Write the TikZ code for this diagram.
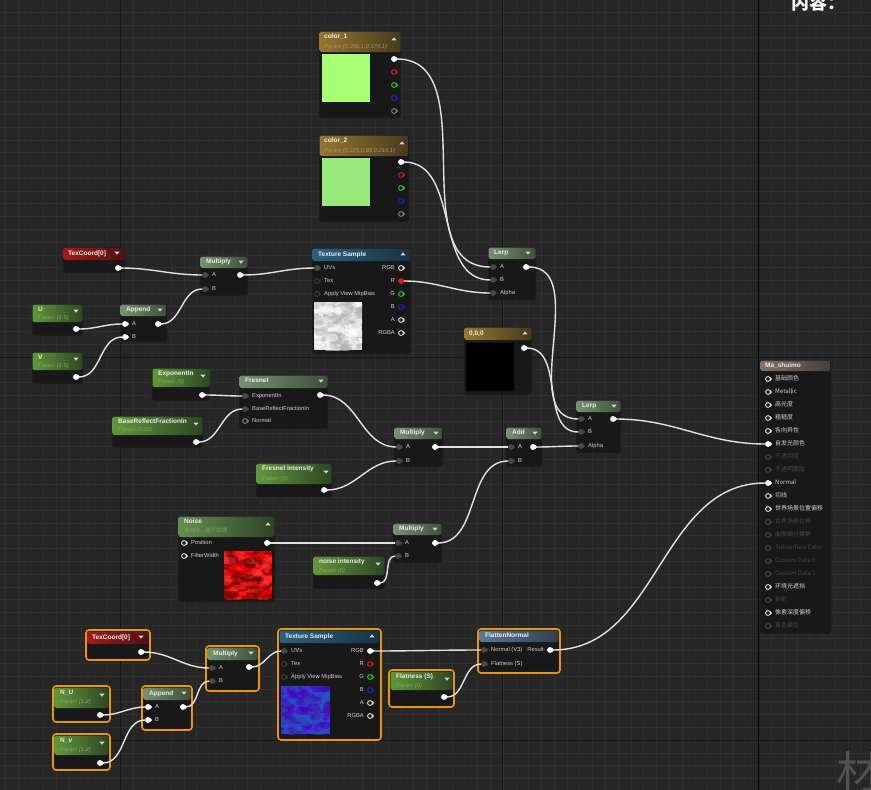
\documentclass[tikz,border=0pt]{standalone}
\usepackage{fontspec}
\setmainfont{Liberation Sans}
\newfontfamily\cjk{Noto Sans CJK SC}

\definecolor{bgc}{RGB}{38,38,38}
\definecolor{gridc}{RGB}{47,47,47}
\definecolor{majc}{RGB}{22,22,22}
\definecolor{bodyc}{RGB}{23,24,23}
\definecolor{wirec}{RGB}{226,226,226}
\definecolor{titlec}{RGB}{236,236,236}
\definecolor{lblc}{RGB}{208,208,208}
\definecolor{dimc}{RGB}{72,72,72}
\definecolor{iconc}{RGB}{215,215,215}
\definecolor{selc}{RGB}{232,150,18}
\definecolor{markc}{RGB}{82,82,82}
\definecolor{pingray}{RGB}{72,72,72}
\definecolor{ringdark}{RGB}{62,62,62}
\definecolor{ringgray}{RGB}{130,130,130}
\definecolor{pinwhite}{RGB}{222,222,222}
\definecolor{pinred}{RGB}{225,25,25}
\definecolor{pingreen}{RGB}{25,215,25}
\definecolor{pinblue}{RGB}{30,30,225}
\definecolor{subpar}{RGB}{128,168,92}
\definecolor{subgold}{RGB}{168,148,98}
\definecolor{funcL}{RGB}{118,146,112}
\definecolor{funcR}{RGB}{62,80,60}
\definecolor{parL}{RGB}{98,150,58}
\definecolor{parR}{RGB}{46,70,36}
\definecolor{texL}{RGB}{42,98,132}
\definecolor{texR}{RGB}{26,50,66}
\definecolor{redL}{RGB}{160,28,28}
\definecolor{redR}{RGB}{78,18,18}
\definecolor{constL}{RGB}{150,118,45}
\definecolor{constR}{RGB}{70,58,30}
\definecolor{flatL}{RGB}{92,122,150}
\definecolor{flatR}{RGB}{46,62,80}
\definecolor{matL}{RGB}{128,114,104}
\definecolor{matR}{RGB}{70,63,58}
\definecolor{noiseL}{RGB}{102,142,80}
\definecolor{noiseR}{RGB}{46,66,40}
\definecolor{swA}{RGB}{166,255,112}
\definecolor{swB}{RGB}{152,232,124}

\tikzset{
  hfunc/.style={left color=funcL, right color=funcR},
  hparam/.style={left color=parL, right color=parR},
  htex/.style={left color=texL, right color=texR},
  hred/.style={left color=redL, right color=redR},
  hconst/.style={left color=constL, right color=constR},
  hflat/.style={left color=flatL, right color=flatR},
  hmat/.style={left color=matL, right color=matR},
  hnoise/.style={left color=noiseL, right color=noiseR},
  body/.style={fill=bodyc, draw=black!85, line width=0.8pt, rounded corners=2pt},
  sel/.style={draw=selc, line width=1.6pt, rounded corners=3pt},
  title/.style={anchor=west, inner sep=0pt, text=titlec, font=\bfseries\fontsize{6.5}{7}\selectfont, text height=4.7pt, text depth=1.3pt},
  sub/.style={anchor=west, inner sep=0pt, text=subpar, font=\itshape\fontsize{5.8}{6.5}\selectfont, text height=4.2pt, text depth=1.2pt},
  lbl/.style={anchor=west, inner sep=0pt, text=lblc, font=\fontsize{5.8}{6.5}\selectfont, text height=4.2pt, text depth=1.2pt},
  lblr/.style={lbl, anchor=east},
  matl/.style={lbl, font=\cjk\fontsize{6}{7}\selectfont},
  pinc/.style={circle, inner sep=0pt, minimum size=4.8pt, line width=0.9pt},
  wire/.style={draw=wirec, line width=1.4pt, out=0, in=180},
}

% box with header: x1, y1, x2, y2, header bottom, header style
\newcommand{\uebox}[6]{%
  \draw[body] (#1,#2) rectangle (#3,#4);
  \shade[#6, rounded corners=1.6pt] (#1+0.5,#2+0.5) rectangle (#3-0.5,#5);}
% pin: name, x, y, fill, ring colour
\newcommand{\uepin}[5]{%
  \node[pinc, fill=#4, draw=#5] (#1) at (#2,#3) {};
  \fill[#5] (#2+2.2,#3-1.9) -- (#2+4.2,#3) -- (#2+2.2,#3+1.9) -- cycle;}
\newcommand{\inpin}[6]{\uepin{#1}{#2}{#3}{#4}{#5}\node[lbl] (#1l) at (#2+7,#3) {#6};}
\newcommand{\outpin}[6]{\uepin{#1}{#2}{#3}{#4}{#5}\node[lblr] (#1l) at (#2-6,#3) {#6};}
\newcommand{\dtri}[2]{\fill[iconc] (#1-2.6,#2-1.4) -- (#1+2.6,#2-1.4) -- (#1,#2+1.6) -- cycle;}
\newcommand{\utri}[2]{\fill[iconc] (#1-2.6,#2+1.4) -- (#1+2.6,#2+1.4) -- (#1,#2-1.6) -- cycle;}
% preview image: x1, y1, x2, y2, base, blob colours, seed
\newcommand{\thumb}[8]{%
  \begin{scope}
    \clip (#1,#2) rectangle (#3,#4);
    \fill[#5] (#1,#2) rectangle (#3,#4);
    \pgfmathsetseed{#8}
    \foreach \bb in {1,...,80}{
      \pgfmathsetmacro\bx{#1+rnd*(#3-#1)}
      \pgfmathsetmacro\by{#2+rnd*(#4-#2)}
      \pgfmathsetmacro\br{1.2+rnd*3}
      \fill[#6, opacity=0.5] (\bx,\by) ellipse ({1.6*\br pt} and {\br pt});
      \pgfmathsetmacro\bx{#1+rnd*(#3-#1)}
      \pgfmathsetmacro\by{#2+rnd*(#4-#2)}
      \fill[#7, opacity=0.4] (\bx,\by) ellipse ({1.6*\br pt} and {\br pt});
    }
  \end{scope}}

\begin{document}
\begin{tikzpicture}[x=1pt,y=-1pt]
  \useasboundingbox (0,0) rectangle (871,790);
  % canvas and grid
  \fill[bgc] (0,0) rectangle (871,790);
  \foreach \gx in {5.1,17.87,...,871} \draw[gridc, line width=0.6pt] (\gx,0) -- (\gx,790);
  \foreach \gy in {12.2,24.97,...,790} \draw[gridc, line width=0.6pt] (0,\gy) -- (871,\gy);
  \draw[majc, line width=1pt] (120,0) -- (120,790) (502,0) -- (502,790) (0,357) -- (871,357) (0,740) -- (871,740);
  \draw[black, line width=1pt] (758,0) -- (758,790);
  \node[font=\cjk\bfseries\fontsize{18}{18}\selectfont, text=white, inner sep=0pt] (panel) at (818,3) {内容：};
  \node[font=\cjk\fontsize{44}{44}\selectfont, text=markc, inner sep=0pt] (mark) at (858,772) {材};

  % color_1
  \uebox{319}{31}{401}{118}{52}{hconst}
  \node[title] (c1t) at (324,37) {color\_1};
  \node[sub, text=subgold] (c1s) at (324,46.5) {Param (0.396,1,0.174,1)};
  \utri{394}{39}
  \fill[swA] (322,54) rectangle (370,102);
  \uepin{c1o}{394}{59}{white}{white}
  \uepin{c1r}{394}{72}{bodyc}{pinred}
  \uepin{c1g}{394}{85}{bodyc}{pingreen}
  \uepin{c1b}{394}{98}{bodyc}{pinblue}
  \uepin{c1a}{394}{111}{bodyc}{ringgray}

  % color_2
  \uebox{319}{135}{409}{222}{156}{hconst}
  \node[title] (c2t) at (324,141) {color\_2};
  \node[sub, text=subgold] (c2s) at (324,150.5) {Param (0.325,0.88,0.216,1)};
  \utri{402}{143}
  \fill[swB] (322,158) rectangle (370,206);
  \uepin{c2o}{401}{162}{white}{white}
  \uepin{c2r}{401}{175}{bodyc}{pinred}
  \uepin{c2g}{401}{188}{bodyc}{pingreen}
  \uepin{c2b}{401}{201}{bodyc}{pinblue}
  \uepin{c2a}{401}{214}{bodyc}{ringgray}

  % TexCoord, U, V, Append, Multiply (top)
  \uebox{63}{247}{125}{273}{260}{hred}
  \node[title] (tc1t) at (68,253.5) {TexCoord[0]};
  \dtri{117}{253}
  \uepin{tc1o}{118}{268}{white}{white}

  \uebox{32}{304}{83}{336}{322}{hparam}
  \node[title] (u1t) at (38,309.5) {U};
  \node[sub] (u1s) at (38,318) {Param (1.5)};
  \dtri{76}{311}
  \uepin{u1o}{76}{329}{white}{white}

  \uebox{32}{352}{83}{384}{370}{hparam}
  \node[title] (v1t) at (38,357.5) {V};
  \node[sub] (v1s) at (38,366) {Param (1.5)};
  \dtri{76}{359}
  \uepin{v1o}{76}{377}{white}{white}

  \uebox{120}{304}{167}{342}{316}{hfunc}
  \node[title] (ap1t) at (126,310) {Append};
  \dtri{160}{310}
  \inpin{ap1a}{125}{324}{white}{white}{A}
  \inpin{ap1b}{125}{337}{white}{white}{B}
  \uepin{ap1o}{158}{324}{white}{white}

  \uebox{200}{256}{248}{296}{268}{hfunc}
  \node[title] (mu1t) at (206,262) {Multiply};
  \dtri{241}{262}
  \inpin{mu1a}{205}{275}{pingray}{pingray}{A}
  \inpin{mu1b}{205}{289}{pingray}{pingray}{B}
  \uepin{mu1o}{240}{275}{white}{white}

  % Texture Sample (top)
  \uebox{312}{248}{411}{354}{261}{htex}
  \node[title] (ts1t) at (318,254.5) {Texture Sample};
  \utri{403}{254}
  \inpin{ts1uv}{317}{268}{pingray}{pingray}{UVs}
  \inpin{ts1tx}{317}{281}{bodyc}{ringdark}{Tex}
  \inpin{ts1mb}{317}{294}{bodyc}{ringdark}{Apply View MipBias}
  \outpin{ts1rgb}{401}{268}{bodyc}{pinwhite}{RGB}
  \outpin{ts1r}{401}{281}{pinred}{pinred}{R}
  \outpin{ts1g}{401}{294}{bodyc}{pingreen}{G}
  \outpin{ts1b}{401}{307}{bodyc}{pinblue}{B}
  \outpin{ts1a}{401}{320}{bodyc}{pinwhite}{A}
  \outpin{ts1rgba}{401}{333}{bodyc}{pinwhite}{RGBA}
  \thumb{314}{302}{362}{350}{black!17}{white}{black!32}{7}

  % Lerp (top) and 0,0,0
  \uebox{488}{247}{536}{300}{259}{hfunc}
  \node[title] (le1t) at (494,253) {Lerp};
  \dtri{528}{253}
  \inpin{le1a}{493}{267}{pingray}{pingray}{A}
  \inpin{le1b}{493}{280}{pingray}{pingray}{B}
  \inpin{le1al}{493}{293}{pingray}{pingray}{Alpha}
  \uepin{le1o}{526}{267}{white}{white}

  \uebox{464}{327}{532}{395}{340}{hconst}
  \node[title] (zt) at (469,333.5) {0,0,0};
  \utri{525}{333}
  \fill[black] (466,343) rectangle (514,391);
  \uepin{zo}{524}{348}{white}{white}

  % Lerp (bottom)
  \uebox{576}{400}{621}{453}{412}{hfunc}
  \node[title] (le2t) at (582,406) {Lerp};
  \dtri{614}{406}
  \inpin{le2a}{581}{419}{pingray}{pingray}{A}
  \inpin{le2b}{581}{432}{pingray}{pingray}{B}
  \inpin{le2al}{581}{446}{pingray}{pingray}{Alpha}
  \uepin{le2o}{613}{419}{white}{white}

  % Fresnel group
  \uebox{152}{368}{210}{401}{387}{hparam}
  \node[title] (ext) at (158,373.5) {ExponentIn};
  \node[sub] (exs) at (158,382) {Param (5)};
  \dtri{203}{376}
  \uepin{exo}{202}{395}{white}{white}

  \uebox{112}{416}{203}{448}{435}{hparam}
  \node[title] (brt) at (118,421.5) {BaseReflectFractionIn};
  \node[sub] (brs) at (118,430) {Param (0.05)};
  \dtri{196}{424}
  \uepin{bro}{196}{442}{white}{white}

  \uebox{239}{375}{328}{429}{388}{hfunc}
  \node[title] (frt) at (245,381) {Fresnel};
  \dtri{321}{381}
  \inpin{frex}{245}{396}{pingray}{pingray}{ExponentIn}
  \inpin{frbr}{245}{409}{pingray}{pingray}{BaseReflectFractionIn}
  \inpin{frn}{245}{421}{bodyc}{ringgray}{Normal}
  \uepin{fro}{320}{395}{white}{white}

  \uebox{256}{463}{332}{497}{484}{hparam}
  \node[title] (fit) at (262,469) {Fresnel Intensity};
  \node[sub] (fis) at (262,478.5) {Param (5)};
  \dtri{326}{472}
  \uepin{fio}{324}{490}{white}{white}

  \uebox{394}{427}{443}{467}{439}{hfunc}
  \node[title] (mu2t) at (400,433) {Multiply};
  \dtri{436}{433}
  \inpin{mu2a}{399}{447}{pingray}{pingray}{A}
  \inpin{mu2b}{399}{461}{pingray}{pingray}{B}
  \uepin{mu2o}{435}{447}{white}{white}

  \uebox{506}{427}{542}{467}{439}{hfunc}
  \node[title] (adt) at (512,433) {Add};
  \dtri{535}{433}
  \inpin{ada}{511}{447}{pingray}{pingray}{A}
  \inpin{adb}{511}{461}{pingray}{pingray}{B}
  \uepin{ado}{533}{447}{white}{white}

  % Noise group
  \uebox{178}{516}{275}{602}{537}{hnoise}
  \node[title] (not) at (184,521.5) {Noise};
  \node[sub, font=\cjk\fontsize{5.5}{6}\selectfont] (nos) at (184,531) {单纯形 - 基于纹理};
  \utri{268}{524}
  \inpin{nop}{184}{543}{bodyc}{pinwhite}{Position}
  \inpin{nof}{184}{556}{bodyc}{pinwhite}{FilterWidth}
  \uepin{noo}{267}{543}{white}{white}
  \thumb{224}{551}{272}{599}{red!92!black}{black!60!red}{red!75!white}{11}

  \uebox{313}{556}{385}{589}{575}{hparam}
  \node[title] (nit) at (319,561.5) {noise intensity};
  \node[sub] (nis) at (319,570.5) {Param (0)};
  \dtri{378}{564}
  \uepin{nio}{377}{583}{white}{white}

  \uebox{393}{523}{442}{563}{535}{hfunc}
  \node[title] (mu3t) at (399,529) {Multiply};
  \dtri{435}{529}
  \inpin{mu3a}{398}{543}{pingray}{pingray}{A}
  \inpin{mu3b}{398}{556}{pingray}{pingray}{B}
  \uepin{mu3o}{435}{543}{white}{white}

  % material Ma_shuimo
  \uebox{760}{360}{831}{634}{371}{hmat}
  \node[title] (mat) at (765,365.5) {Ma\_shuimo};
  \foreach \lab/\pf/\pd/\tc [count=\i] in {基础颜色/bodyc/pinwhite/lblc,
    Metallic/bodyc/pinwhite/lblc,
    高光度/bodyc/pinwhite/lblc,
    粗糙度/bodyc/pinwhite/lblc,
    各向异性/bodyc/pinwhite/lblc,
    自发光颜色/white/white/lblc,
    不透明度/bodyc/dimc/dimc,
    不透明蒙版/bodyc/dimc/dimc,
    Normal/white/white/lblc,
    切线/bodyc/pinwhite/lblc,
    世界场景位置偏移/bodyc/pinwhite/lblc,
    世界场景位移/bodyc/dimc/dimc,
    曲面细分乘数/bodyc/dimc/dimc,
    Subsurface Color/bodyc/dimc/dimc,
    Custom Data 0/bodyc/dimc/dimc,
    Custom Data 1/bodyc/dimc/dimc,
    环境光遮挡/bodyc/pinwhite/lblc,
    折射/bodyc/dimc/dimc,
    像素深度偏移/bodyc/pinwhite/lblc,
    着色模型/bodyc/dimc/dimc}{
    \uepin{ma\i}{768}{366+13*\i}{\pf}{\pd}
    \node[matl, text=\tc] (ma\i l) at (775,366+13*\i) {\lab};
  }

  % normal group (selected)
  \uebox{87}{631}{149}{659}{644}{hred}
  \draw[sel] (86,630) rectangle (150,660);
  \node[title] (tc2t) at (92,637.5) {TexCoord[0]};
  \dtri{141}{637}
  \uepin{tc2o}{141}{652}{white}{white}

  \uebox{54}{687}{109}{721}{708}{hparam}
  \draw[sel] (53,686) rectangle (110,722);
  \node[title] (nut) at (60,692.5) {N\_U};
  \node[sub] (nus) at (60,701.5) {Param (1.2)};
  \dtri{102}{695}
  \uepin{nuo}{100}{715}{white}{white}

  \uebox{54}{735}{109}{769}{755}{hparam}
  \draw[sel] (53,734) rectangle (110,770);
  \node[title] (nvt) at (60,740.5) {N\_v};
  \node[sub] (nvs) at (60,749.5) {Param (1.2)};
  \dtri{102}{743}
  \uepin{nvo}{100}{763}{white}{white}

  \uebox{143}{687}{191}{729}{700}{hfunc}
  \draw[sel] (142,686) rectangle (192,730);
  \node[title] (ap2t) at (149,693.5) {Append};
  \dtri{184}{693}
  \inpin{ap2a}{148}{707}{white}{white}{A}
  \inpin{ap2b}{148}{720}{white}{white}{B}
  \uepin{ap2o}{183}{707}{white}{white}

  \uebox{207}{647}{258}{690}{660}{hfunc}
  \draw[sel] (206,646) rectangle (259,691);
  \node[title] (mu4t) at (213,653.5) {Multiply};
  \dtri{251}{653}
  \inpin{mu4a}{212}{668}{pingray}{pingray}{A}
  \inpin{mu4b}{212}{681}{pingray}{pingray}{B}
  \uepin{mu4o}{249}{667}{white}{white}

  \uebox{279}{630}{380}{739}{643}{htex}
  \draw[sel] (278,629) rectangle (381,740);
  \node[title] (ts2t) at (285,636.5) {Texture Sample};
  \utri{372}{636}
  \inpin{ts2uv}{284}{651}{pingray}{pingray}{UVs}
  \inpin{ts2tx}{284}{664}{bodyc}{ringdark}{Tex}
  \inpin{ts2mb}{284}{677}{bodyc}{ringdark}{Apply View MipBias}
  \outpin{ts2rgb}{370}{651}{white}{white}{RGB}
  \outpin{ts2r}{370}{664}{bodyc}{pinred}{R}
  \outpin{ts2g}{370}{677}{bodyc}{pingreen}{G}
  \outpin{ts2b}{370}{690}{bodyc}{pinblue}{B}
  \outpin{ts2a}{370}{703}{bodyc}{pinwhite}{A}
  \outpin{ts2rgba}{370}{716}{bodyc}{pinwhite}{RGBA}
  \thumb{281}{686}{330}{734}{blue!75!white!85!black}{violet!60!blue}{cyan!40!blue}{5}

  \uebox{390}{671}{453}{706}{690}{hparam}
  \draw[sel] (389,670) rectangle (454,707);
  \node[title] (flt) at (396,677) {Flatness (S)};
  \node[sub] (fls) at (396,686) {Param (0)};
  \dtri{447}{679}
  \uepin{flo}{444}{697}{white}{white}

  \uebox{479}{630}{559}{672}{642}{hflat}
  \draw[sel] (478,629) rectangle (560,673);
  \node[title] (fnt) at (485,636) {FlattenNormal};
  \inpin{fnn}{484}{650}{pingray}{pingray}{Normal (V3)}
  \inpin{fnf}{484}{664}{pingray}{pingray}{Flatness (S)}
  \outpin{fno}{550}{650}{white}{white}{Result}

  % wires
  \draw[wire] (c1o) to (le1a);
  \draw[wire] (c2o) to (le1b);
  \draw[wire] (ts1r) to (le1al);
  \draw[wire] (tc1o) to (mu1a);
  \draw[wire] (u1o) to (ap1a);
  \draw[wire] (v1o) to (ap1b);
  \draw[wire] (ap1o) to (mu1b);
  \draw[wire] (mu1o) to (ts1uv);
  \draw[wire] (le1o) to (le2a);
  \draw[wire] (zo) to (le2b);
  \draw[wire] (exo) to (frex);
  \draw[wire] (bro) to (frbr);
  \draw[wire] (fro) to (mu2a);
  \draw[wire] (fio) to (mu2b);
  \draw[wire] (mu2o) to (ada);
  \draw[wire] (noo) to (mu3a);
  \draw[wire] (nio) to (mu3b);
  \draw[wire] (mu3o) to (adb);
  \draw[wire] (ado) to (le2al);
  \draw[wire] (le2o) to (ma6);
  \draw[wire] (tc2o) to (mu4a);
  \draw[wire] (nuo) to (ap2a);
  \draw[wire] (nvo) to (ap2b);
  \draw[wire] (ap2o) to (mu4b);
  \draw[wire] (mu4o) to (ts2uv);
  \draw[wire] (ts2rgb) to (fnn);
  \draw[wire] (flo) to (fnf);
  \draw[wire] (fno) to (ma9);
\end{tikzpicture}
\end{document}
